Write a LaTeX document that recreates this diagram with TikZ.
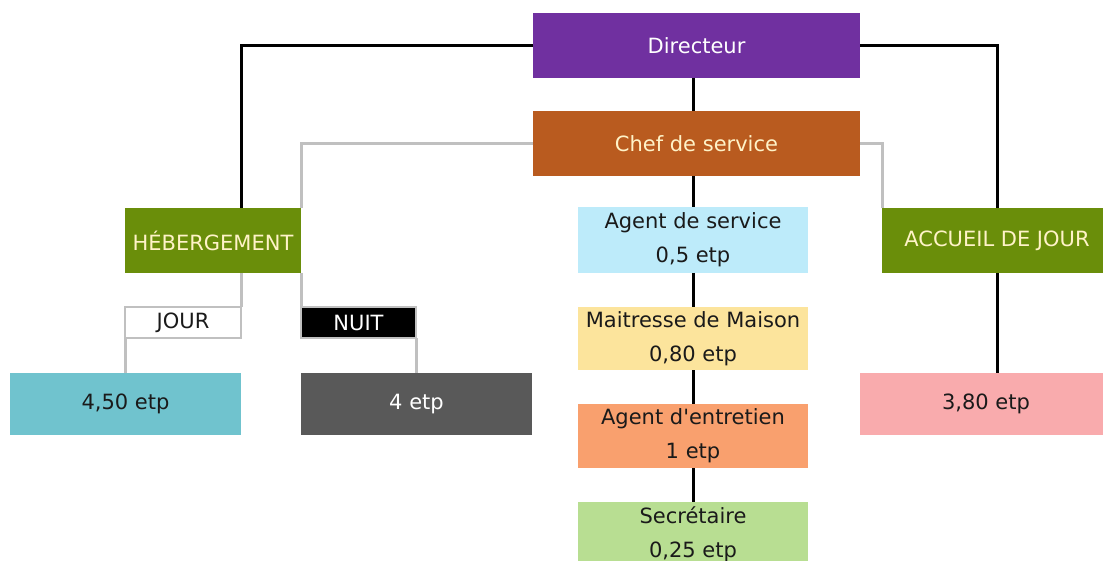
\documentclass[tikz,border=0pt]{standalone}
\usepackage{fontspec}
\setmainfont{DejaVu Sans}
\definecolor{cpurple}{HTML}{7030A0}
\definecolor{corange}{HTML}{B95B1F}
\definecolor{cgreen}{HTML}{6A8E0A}
\definecolor{cblue}{HTML}{BDEBFA}
\definecolor{cyellow}{HTML}{FCE49C}
\definecolor{csalmon}{HTML}{F9A06E}
\definecolor{clgreen}{HTML}{B8DE92}
\definecolor{cteal}{HTML}{70C3CE}
\definecolor{cdgray}{HTML}{595959}
\definecolor{cpink}{HTML}{F9ABAD}
\definecolor{ccream}{HTML}{FFF3C8}
\definecolor{clinegray}{HTML}{C0C0C0}
\definecolor{ctext}{HTML}{1A1A1A}
\begin{document}
\begin{tikzpicture}[x=1pt,y=-1pt,
  box/.style={rectangle, inner sep=0pt, outer sep=0pt, align=center, text=ctext,
    font=\fontsize{21}{33}\selectfont},
  two/.style={text depth=4pt},
  blk/.style={draw=black, line width=3pt},
  gry/.style={draw=clinegray, line width=3pt}]
\useasboundingbox (0,0) rectangle (1103,561);
\clip (0,0) rectangle (1103,561);
\fill[white] (0,0) rectangle (1103,561);
% nodes
\node[box, fill=cpurple, text=white, minimum width=327pt, minimum height=65pt] (dir) at (696.5,45.5) {Directeur};
\node[box, fill=corange, text=ccream, minimum width=327pt, minimum height=65pt] (chef) at (696.5,143.5) {Chef de service};
\node[box, fill=cgreen, text=ccream, minimum width=176pt, minimum height=65pt] (heb) at (213,240.5) {HÉBERGEMENT};
\node[box, fill=cgreen, text=ccream, minimum width=230pt, minimum height=65pt] (acc) at (997,240.5) {ACCUEIL DE JOUR};
\node[box, fill=cblue, minimum width=230pt, minimum height=66pt] (agent) at (693,240) {Agent de service\\[1pt]0,5 etp};
\node[box, fill=cyellow, minimum width=230pt, minimum height=63pt] (mait) at (693,338.5) {Maitresse de Maison\\[1pt]0,80 etp};
\node[box, fill=csalmon, minimum width=230pt, minimum height=64pt] (entr) at (693,436) {Agent d\textquotesingle entretien\\[1pt]1 etp};
\node[box, fill=clgreen, minimum width=230pt, minimum height=64pt] (secr) at (693,534) {Secrétaire\\[1pt]0,25 etp};
\node[box, fill=white, draw=clinegray, line width=2.5pt, minimum width=116pt, minimum height=31pt] (jour) at (183,322.5) {JOUR};
\node[box, fill=black, text=white, draw=clinegray, line width=2.5pt, minimum width=115pt, minimum height=31pt] (nuit) at (358.5,322.5) {NUIT};
\node[box, fill=cteal, minimum width=231pt, minimum height=62pt] (e450) at (125.5,404) {4,50 etp};
\node[box, fill=cdgray, text=white, minimum width=231pt, minimum height=62pt] (e4) at (416.5,404) {4 etp};
\node[box, fill=cpink, minimum width=252pt, minimum height=62pt] (e380) at (986,404) {3,80 etp};
% black connectors
\draw[blk] (dir.west) -| (heb.north -| jour.east);
\draw[blk] (dir.east) -| (acc.north);
\draw[blk] (dir.south -| agent.north) -- (chef.north -| agent.north);
\draw[blk] (chef.south -| agent.north) -- (agent.north);
\draw[blk] (agent.south) -- (mait.north);
\draw[blk] (mait.south) -- (entr.north);
\draw[blk] (entr.south) -- (secr.north);
\draw[blk] (acc.south) -- (acc.south |- e380.north);
% gray connectors
\draw[gry] (chef.west) -| (heb.north east);
\draw[gry] (chef.east) -| (acc.north west);
\draw[gry] (heb.south east) -- (heb.south east |- nuit.north);
\draw[gry] (heb.south -| jour.east) -- (jour.north east);
\draw[gry] (jour.south west) -- (e450.north -| jour.west);
\draw[gry] (nuit.south east) -- (e4.north -| nuit.east);
\end{tikzpicture}
\end{document}
